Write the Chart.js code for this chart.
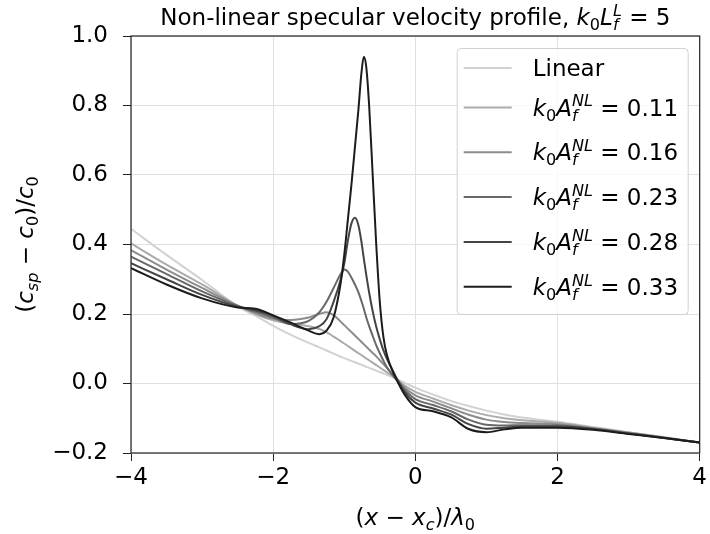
<!DOCTYPE html>
<html>
<head>
<meta charset="utf-8">
<script src="https://cdn.jsdelivr.net/npm/chart.js@4"></script>
<style>
  html, body { margin: 0; padding: 0; background: #fff; }
</style>
</head>
<body>
<canvas id="myChart" width="710" height="534"></canvas>
<script>
// x positions, (x - x_c)/lambda_0
const xs = [-4, -3.5, -3, -2.5, -2.25, -2, -1.75, -1.5, -1.35, -1.25, -1.15, -1.05, -1.0, -0.95, -0.9, -0.85, -0.8,
            -0.76, -0.725, -0.69, -0.65, -0.6, -0.55, -0.5, -0.45, -0.4, -0.3, -0.25, -0.15, 0,
            0.25, 0.5, 0.75, 1, 1.25, 1.5, 2, 2.5, 3, 3.5, 4];

// (c_sp - c_0)/c_0
const linearProfile = [0.445, 0.37, 0.298, 0.222, 0.195, 0.166, 0.14, 0.117, 0.104, 0.095, 0.086, 0.077, 0.073, 0.069, 0.065, 0.061, 0.057,
                       0.054, 0.051, 0.048, 0.045, 0.041, 0.037, 0.033, 0.029, 0.025, 0.016, 0.011, 0.002, -0.012,
                       -0.032, -0.05, -0.065, -0.078, -0.089, -0.098, -0.11, -0.125, -0.14, -0.155, -0.17];
const amp011 = [0.403, 0.342, 0.285, 0.224, 0.2, 0.182, 0.172, 0.165, 0.157, 0.148, 0.135, 0.122, 0.115, 0.108, 0.101, 0.094, 0.087,
                0.082, 0.077, 0.072, 0.067, 0.06, 0.053, 0.046, 0.039, 0.032, 0.018, 0.01, -0.006, -0.024,
                -0.043, -0.062, -0.078, -0.091, -0.1, -0.106, -0.113, -0.127, -0.141, -0.155, -0.17];
const amp016 = [0.384, 0.328, 0.275, 0.224, 0.203, 0.186, 0.183, 0.19, 0.2, 0.205, 0.197, 0.178, 0.168, 0.158, 0.148, 0.138, 0.128,
                0.12, 0.113, 0.106, 0.098, 0.088, 0.078, 0.067, 0.056, 0.045, 0.022, 0.01, -0.012, -0.034,
                -0.052, -0.071, -0.09, -0.104, -0.111, -0.114, -0.117, -0.129, -0.142, -0.156, -0.17];
const amp023 = [0.365, 0.315, 0.265, 0.223, 0.207, 0.19, 0.171, 0.18, 0.205, 0.235, 0.275, 0.315, 0.328, 0.322, 0.305, 0.285, 0.262,
                0.238, 0.215, 0.19, 0.165, 0.137, 0.11, 0.087, 0.066, 0.047, 0.019, 0.008, -0.018, -0.045,
                -0.062, -0.08, -0.104, -0.119, -0.121, -0.12, -0.121, -0.13, -0.143, -0.156, -0.17];
const amp028 = [0.346, 0.3, 0.255, 0.221, 0.211, 0.195, 0.17, 0.156, 0.165, 0.185, 0.235, 0.3, 0.345, 0.41, 0.46, 0.477, 0.455,
                0.41, 0.36, 0.312, 0.262, 0.208, 0.163, 0.127, 0.096, 0.071, 0.03, 0.01, -0.025, -0.055,
                -0.072, -0.089, -0.117, -0.13, -0.127, -0.124, -0.124, -0.131, -0.144, -0.157, -0.17];
const amp033 = [0.332, 0.285, 0.245, 0.219, 0.215, 0.196, 0.175, 0.152, 0.142, 0.152, 0.19, 0.29, 0.37, 0.47, 0.57, 0.68, 0.79,
                0.89, 0.94, 0.91, 0.8, 0.6, 0.4, 0.235, 0.135, 0.082, 0.026, 0.005, -0.032, -0.068,
                -0.08, -0.097, -0.131, -0.14, -0.132, -0.127, -0.127, -0.133, -0.145, -0.157, -0.17];

const seriesValues = [linearProfile, amp011, amp016, amp023, amp028, amp033];
const ampLabels = ['0.11', '0.16', '0.23', '0.28', '0.33'];
const lineColors = ['#d2d2d2', '#ababab', '#8c8c8c', '#686868', '#444444', '#1c1c1c'];

const xTicks = [-4, -2, 0, 2, 4];
const yTicks = [-0.2, 0.0, 0.2, 0.4, 0.6, 0.8, 1.0];

const FONT = '"DejaVu Sans", sans-serif';
const FS = 23;

function fnt(size, it) {
  return (it ? 'italic ' : '') + size + 'px ' + FONT;
}

// petit rendu "mathtext": runs avec texte, indice et exposant
function drawRich(ctx, runs, x, y, size, align) {
  const small = size * 0.7;
  const parts = runs.map(r => {
    let w;
    if (r.t !== undefined) {
      ctx.font = fnt(size, r.it);
      w = ctx.measureText(r.t).width;
    } else {
      ctx.font = fnt(small, r.it);
      w = Math.max(r.sub ? ctx.measureText(r.sub).width : 0, r.sup ? ctx.measureText(r.sup).width : 0);
    }
    return { r, w };
  });
  const total = parts.reduce((a, p) => a + p.w, 0);
  let cx = align === 'center' ? x - total / 2 : x;
  ctx.textAlign = 'left';
  ctx.textBaseline = 'alphabetic';
  ctx.fillStyle = '#000';
  parts.forEach(p => {
    const r = p.r;
    if (r.t !== undefined) {
      ctx.font = fnt(size, r.it);
      ctx.fillText(r.t, cx, y);
    } else {
      ctx.font = fnt(small, r.it);
      if (r.sub) ctx.fillText(r.sub, cx, y + size * 0.22);
      if (r.sup) ctx.fillText(r.sup, cx, y - size * 0.4);
    }
    cx += p.w;
  });
}

const titleRuns = [
  { t: 'Non-linear specular velocity profile, ' },
  { t: 'k', it: true }, { sub: '0' }, { t: 'L', it: true }, { sub: 'f', sup: 'L', it: true }, { t: ' = 5' }
];
const xLabelRuns = [
  { t: '(' }, { t: 'x', it: true }, { t: ' \u2212 ' }, { t: 'x', it: true }, { sub: 'c', it: true },
  { t: ')/' }, { t: '\u03bb', it: true }, { sub: '0' }
];
const yLabelRuns = [
  { t: '(' }, { t: 'c', it: true }, { sub: 'sp', it: true }, { t: ' \u2212 ' }, { t: 'c', it: true }, { sub: '0' },
  { t: ')/' }, { t: 'c', it: true }, { sub: '0' }
];
function ampRuns(v) {
  return [{ t: 'k', it: true }, { sub: '0' }, { t: 'A', it: true }, { sub: 'f', sup: 'NL', it: true }, { t: ' = ' + v }];
}

const decor = {
  id: 'decor',
  afterDraw(chart) {
    const { ctx, chartArea: a } = chart;
    ctx.save();
    // cadre
    ctx.strokeStyle = '#222';
    ctx.lineWidth = 1.2;
    ctx.strokeRect(a.left, a.top, a.right - a.left, a.bottom - a.top);

    const cx = (a.left + a.right) / 2;
    drawRich(ctx, titleRuns, cx, 25, FS, 'center');
    drawRich(ctx, xLabelRuns, cx, 525, FS, 'center');

    ctx.save();
    ctx.translate(33, (a.top + a.bottom) / 2);
    ctx.rotate(-Math.PI / 2);
    drawRich(ctx, yLabelRuns, 0, 0, FS, 'center');
    ctx.restore();

    // légende
    const w = 231, h = 266;
    const lx = a.right - 12 - w, ly = a.top + 12;
    ctx.fillStyle = 'rgba(255,255,255,0.8)';
    ctx.strokeStyle = '#d0d0d0';
    ctx.lineWidth = 1;
    ctx.beginPath();
    ctx.roundRect(lx + 0.5, ly + 0.5, w, h, 4);
    ctx.fill();
    ctx.stroke();
    for (let i = 0; i < seriesValues.length; i++) {
      const ry = i === 0 ? ly + 20 : ly + 59.5 + (i - 1) * 44.8;
      ctx.strokeStyle = lineColors[i];
      ctx.lineWidth = 2;
      ctx.beginPath();
      ctx.moveTo(lx + 7, ry);
      ctx.lineTo(lx + 55, ry);
      ctx.stroke();
      if (i === 0) {
        drawRich(ctx, [{ t: 'Linear' }], lx + 76, ry + 8, FS, 'left');
      } else {
        drawRich(ctx, ampRuns(ampLabels[i - 1]), lx + 76, ry + 8, FS, 'left');
      }
    }
    ctx.restore();
  }
};

const datasets = seriesValues.map((vals, i) => ({
  label: i === 0 ? 'Linear' : ampLabels[i - 1],
  data: xs.map((x, j) => ({ x: x, y: vals[j] })),
  borderColor: lineColors[i],
  borderWidth: 2,
  pointRadius: 0,
  fill: false,
  cubicInterpolationMode: 'monotone',
  order: seriesValues.length - i
}));

new Chart(document.getElementById('myChart').getContext('2d'), {
  type: 'line',
  data: { datasets: datasets },
  options: {
    responsive: false,
    animation: false,
    devicePixelRatio: 1,
    layout: { padding: { left: 0, right: 6, top: 36, bottom: 0 } },
    plugins: {
      legend: { display: false },
      title: { display: false },
      tooltip: { enabled: false }
    },
    scales: {
      x: {
        type: 'linear',
        min: -4,
        max: 4,
        afterBuildTicks: s => { s.ticks = xTicks.map(v => ({ value: v })); },
        afterFit: s => { s.height = 81; },
        ticks: {
          font: { family: FONT, size: FS },
          color: '#000',
          maxRotation: 0,
          padding: 3,
          callback: v => (Math.abs(v) < 1e-9 ? '0' : String(v)).replace('-', '\u2212')
        },
        grid: { color: '#e0e0e0', lineWidth: 1, tickColor: '#222', tickLength: 8 },
        border: { display: false }
      },
      y: {
        type: 'linear',
        min: -0.2,
        max: 1.0,
        afterBuildTicks: s => { s.ticks = yTicks.map(v => ({ value: v })); },
        afterFit: s => { s.width = 131; },
        ticks: {
          font: { family: FONT, size: FS },
          color: '#000',
          padding: 15,
          callback: v => (Math.abs(v) < 1e-9 ? 0 : v).toFixed(1).replace('-', '\u2212')
        },
        grid: { color: '#e0e0e0', lineWidth: 1, tickColor: '#222', tickLength: 8 },
        border: { display: false }
      }
    }
  },
  plugins: [decor]
});
</script>
</body>
</html>
